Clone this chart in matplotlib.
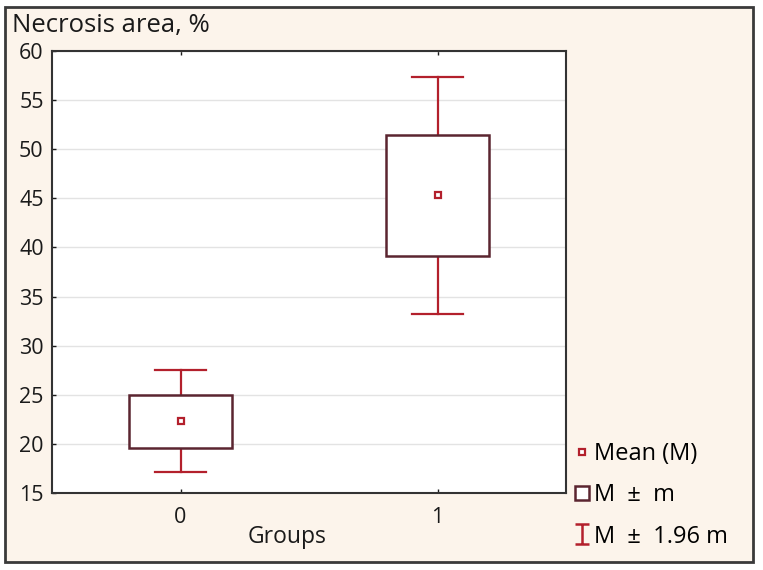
import matplotlib.pyplot as plt
from matplotlib.lines import Line2D
from matplotlib.patches import Rectangle
from matplotlib.path import Path

# values
groups = [0, 1]
group_labels = ['0', '1']
means = [22.3, 45.3]
box_low = [19.6, 39.1]
box_high = [25.0, 51.4]
whisk_low = [17.1, 33.2]
whisk_high = [27.5, 57.4]
y_ticks = [15, 20, 25, 30, 35, 40, 45, 50, 55, 60]

plt.rcParams['font.family'] = ['Open Sans', 'DejaVu Sans']

BOX_COL = '#5b2530'
RED = '#b3202c'
BG = '#fcf4eb'
TXT = '#1a1a1a'

fig = plt.figure(figsize=(7.63, 5.70), dpi=100, facecolor='white')
# cream panel with dark frame, kept behind the axes
fig.add_artist(Rectangle((0.0066, 0.014), 0.980, 0.9737, transform=fig.transFigure,
                         facecolor=BG, edgecolor='#3a3a3a', linewidth=2, zorder=-10))

ax = fig.add_axes([0.0682, 0.1351, 0.6737, 0.7754])
ax.set_facecolor('white')

box_w = 0.40
cap_w = 0.20
for g, m, lo, hi, wl, wh in zip(groups, means, box_low, box_high, whisk_low, whisk_high):
    # whiskers
    ax.plot([g, g], [hi, wh], color=RED, lw=1.6, zorder=3)
    ax.plot([g, g], [wl, lo], color=RED, lw=1.6, zorder=3)
    ax.plot([g - cap_w / 2, g + cap_w / 2], [wh, wh], color=RED, lw=1.6, zorder=3)
    ax.plot([g - cap_w / 2, g + cap_w / 2], [wl, wl], color=RED, lw=1.6, zorder=3)
    # box
    ax.add_patch(Rectangle((g - box_w / 2, lo), box_w, hi - lo, facecolor='white',
                           edgecolor=BOX_COL, linewidth=1.8, zorder=4))
    # mean
    ax.plot(g, m, marker='s', ms=5, mfc='white', mec=RED, mew=1.6, zorder=5)

ax.set_xlim(-0.5, 1.5)
ax.set_ylim(15, 60)
ax.set_yticks(y_ticks)
ax.set_xticks(groups)
ax.set_xticklabels(group_labels)
ax.tick_params(axis='both', direction='in', labelsize=15.5, colors=TXT, length=3, width=1)
ax.tick_params(axis='y', pad=6)
ax.tick_params(axis='x', top=True, pad=10)
ax.grid(axis='y', color='#e3e3e3', lw=1)
ax.set_axisbelow(True)
for s in ax.spines.values():
    s.set_color('#333333')
    s.set_linewidth(1.5)

ax.set_xlabel('Groups', fontsize=16.5, color=TXT, va='center')
ax.xaxis.set_label_coords(0.458, -0.099)
fig.text(0.0157, 0.955, 'Necrosis area, %', fontsize=18.5, color=TXT, va='center', ha='left')

# legend
ibeam = Path([(-0.75, 1), (0.75, 1), (0, 1), (0, -1), (-0.75, -1), (0.75, -1)],
             [Path.MOVETO, Path.LINETO, Path.MOVETO, Path.LINETO, Path.MOVETO, Path.LINETO])
handles = [
    Line2D([], [], ls='none', marker='s', ms=5, mfc='white', mec=RED, mew=1.6),
    Line2D([], [], ls='none', marker='s', ms=10, mfc='white', mec=BOX_COL, mew=1.8),
    Line2D([], [], ls='none', marker=ibeam, ms=14, mec=RED, mew=1.8),
]
labels = ['Mean (M)', 'M  \u00b1  m', 'M  \u00b1  1.96 m']
fig.legend(handles, labels, loc='center left', bbox_to_anchor=(0.7536, 0.131),
           frameon=False, fontsize=17, handlelength=0.6, handletextpad=0.21,
           labelspacing=0.73, borderaxespad=0, borderpad=0)

fig.savefig('out.png', dpi=100, facecolor=fig.get_facecolor())
